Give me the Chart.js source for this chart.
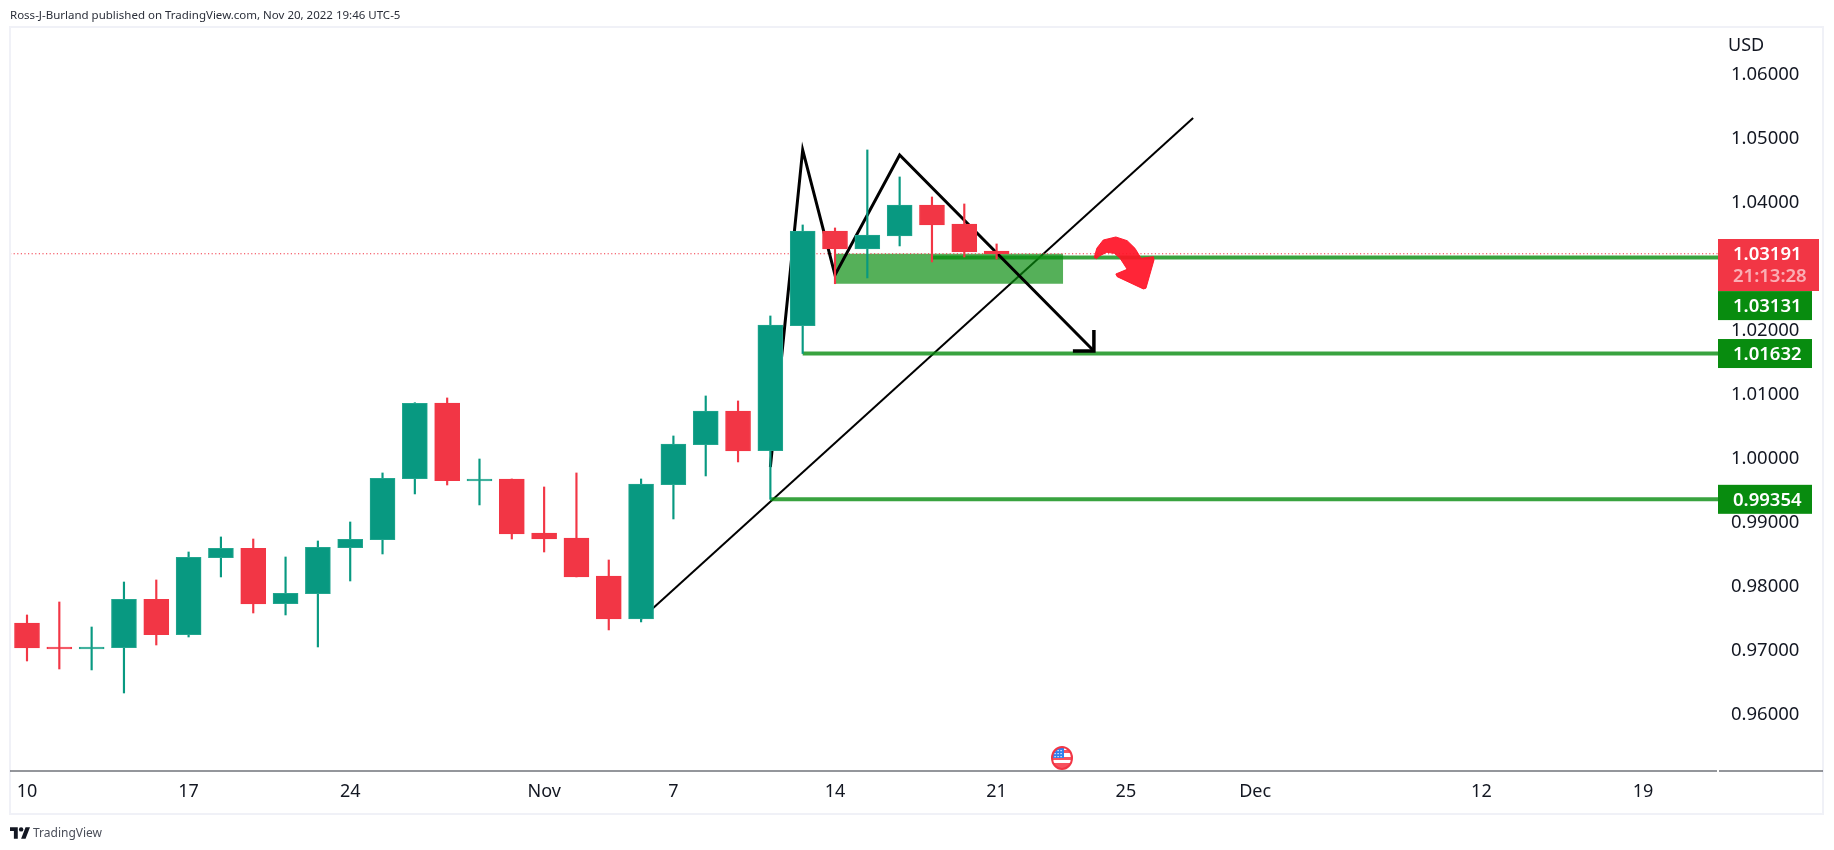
<!DOCTYPE html>
<html>
<head>
<meta charset="utf-8">
<title>EURUSD daily</title>
<script src="https://cdn.jsdelivr.net/npm/chart.js@4"></script>
<style>
  html, body { margin: 0; padding: 0; background: #fff; width: 1834px; height: 850px; overflow: hidden; }
  #wrap { position: relative; width: 1834px; height: 850px; }
  #chart { position: absolute; left: 0; top: 0; }
  .txt { position: absolute; font-family: "Noto Sans", sans-serif; white-space: nowrap; }
  #head { left: 10px; top: 5px; font-size: 11.5px; line-height: 20px; color: #2a2e39; }
  #brand { left: 33px; top: 823px; font-size: 12px; line-height: 20px; color: #4a4e59; }
  #logo { position: absolute; left: 10px; top: 827px; }
</style>
</head>
<body>
<div id="wrap">
  <canvas id="chart" width="1834" height="850"></canvas>
  <div class="txt" id="head">Ross-J-Burland published on TradingView.com, Nov 20, 2022 19:46 UTC-5</div>
  <svg id="logo" width="20" height="12" viewBox="0 0 36 21"><path fill="#131722" d="M14 0H0v7h7v14h7V0zM28 21h-8l8-21h8l-8 21z"/><circle fill="#131722" cx="20" cy="4" r="4"/></svg>
  <div class="txt" id="brand">TradingView</div>
</div>
<script>
// daily candles, Oct 10 to Nov 21, weekdays only
const opens = [0.97422,0.97047,0.97016,0.97036,0.97792,0.97240,0.98442,0.98589,0.97724,0.97879,0.98599,0.98723,0.99678,1.00859,0.99641,0.99672,0.98828,0.98750,0.98156,0.97484,0.99584,1.00208,1.00734,1.00114,1.02067,1.03547,1.03266,1.03469,1.03953,1.03656,1.03234];
const highs = [0.97547,0.97750,0.97359,0.98062,0.98094,0.98531,0.98766,0.98734,0.98453,0.98703,0.99000,0.99766,1.00864,1.00938,0.99984,0.99672,0.99547,0.99766,0.98406,0.99672,1.00344,1.00969,1.00891,1.02219,1.03641,1.03594,1.04813,1.04391,1.04078,1.03969,1.03344];
const lows = [0.96828,0.96703,0.96688,0.96328,0.97078,0.97203,0.98141,0.97578,0.97547,0.97047,0.98078,0.98500,0.99438,0.99578,0.99266,0.98734,0.98531,0.98141,0.97313,0.97438,0.99047,0.99719,0.99938,0.99354,1.01632,1.02723,1.02813,1.03313,1.03063,1.03141,1.03109];
const closes = [0.97031,0.97016,0.97047,0.97792,0.97240,0.98448,0.98589,0.97719,0.97885,0.98605,0.98730,0.99683,1.00852,0.99645,0.99672,0.98812,0.98734,0.98141,0.97484,0.99594,1.00219,1.00734,1.00109,1.02078,1.03547,1.03266,1.03484,1.03953,1.03641,1.03219,1.03191];

const timeTickPos = [0,5,10,16,20,25,30,34,38,45,50];
const timeTickLabels = ['10','17','24','Nov','7','14','21','25','Dec','12','19'];
const priceTicks = [0.96,0.97,0.98,0.99,1.00,1.01,1.02,1.03,1.04,1.05,1.06];

const lastPrice = 1.03191;
const xMin = -0.526, xMax = 52.32, yMin = 0.95109, yMax = 1.06734;

// drawings, x in bar index, y in price
const level1X = [28, xMax], level1Y = [1.03131, 1.03131];
const level2X = [24, xMax], level2Y = [1.01632, 1.01632];
const level3X = [23, xMax], level3Y = [0.99354, 0.99354];
const zoneX = [25, 32.06], zoneTop = 1.03191, zoneBottom = 1.02723;
const trendX = [19, 36.08], trendY = [0.97484, 1.05313];
const zigzagX = [23, 24, 25, 27, 33.01], zigzagY = [0.99859, 1.04813, 1.02859, 1.04734, 1.01672];
const headX = [32.36, 33.01, 33.01], headY = [1.01672, 1.01672, 1.02];
const curveX = [33.02,33.10,33.30,33.69,34.04,34.28,34.47,34.85,34.87,34.62,34.54,33.73,33.69,34.04,33.82,33.64,33.41,33.18,33.08];
const curveY = [1.03130,1.03277,1.03406,1.03453,1.03395,1.03277,1.03120,1.03145,1.03094,1.02652,1.02641,1.02833,1.02875,1.02948,1.03120,1.03198,1.03214,1.03156,1.03109];

const UP = '#089981', DOWN = '#f23645', UP_EDGE = '#22a68f';
const LEVEL = 'rgba(8,140,15,0.8)', TAG = '#088c0f';
const FONT = '"Noto Sans", sans-serif';

const pts = (xs, ys) => xs.map((x, i) => ({ x, y: ys[i] }));
const isUp = (ctx) => closes[ctx.dataIndex] >= opens[ctx.dataIndex];

function lineSet(xs, ys, color, width, order, extra) {
  return Object.assign({
    type: 'line', data: pts(xs, ys), borderColor: color, borderWidth: width,
    pointRadius: 0, tension: 0, fill: false, order, borderJoinStyle: 'miter', borderCapStyle: 'butt'
  }, extra || {});
}

const tradingViewLook = {
  id: 'tradingViewLook',
  afterDraw(chart) {
    const c = chart.ctx, y = chart.scales.y;
    c.save();
    // frame and time axis line
    c.strokeStyle = '#f0f1f7'; c.lineWidth = 2;
    c.strokeRect(10, 27, 1813, 787);
    c.strokeStyle = '#2a2e39'; c.lineWidth = 1.2;
    c.beginPath(); c.moveTo(10, 771); c.lineTo(1717, 771); c.moveTo(1719, 771); c.lineTo(1823, 771); c.stroke();

    c.textBaseline = 'middle'; c.textAlign = 'left';
    c.fillStyle = '#131722'; c.font = '18px ' + FONT;
    c.fillText('USD', 1728, 46);

    // last price tag
    c.fillStyle = DOWN; c.fillRect(1718, 239, 101, 52);
    c.font = '600 18.5px ' + FONT; c.fillStyle = '#fff';
    c.fillText('1.03191', 1733, 255);
    c.fillStyle = 'rgba(255,255,255,0.6)';
    c.fillText('21:13:28', 1733, 277);

    // level tags, the top one is pushed down under the last price tag
    [[level1Y[0], 48], [level2Y[0], 0], [level3Y[0], 0]].forEach(([p, shift]) => {
      const py = y.getPixelForValue(p) + shift;
      c.fillStyle = TAG; c.fillRect(1718, py - 14.5, 94, 29);
      c.fillStyle = '#fff';
      c.fillText(p.toFixed(5), 1733, py + 1);
    });

    // calendar event flag
    const fx = 1062, fy = 758;
    c.beginPath(); c.ellipse(fx, fy, 10, 11, 0, 0, Math.PI * 2);
    c.fillStyle = '#fff'; c.fill();
    c.save(); c.clip();
    c.fillStyle = '#f7525f'; c.fillRect(fx - 11, fy - 8, 22, 3); c.fillRect(fx - 11, fy - 1, 22, 3); c.fillRect(fx - 11, fy + 5, 22, 7);
    c.fillStyle = '#2f80ed'; c.fillRect(fx - 9, fy - 10, 11, 10);
    c.fillStyle = '#fff';
    for (let a = 0; a < 3; a++) for (let b = 0; b < 3; b++) c.fillRect(fx - 7.5 + a * 3, fy - 8 + b * 3, 1.2, 1.2);
    c.restore();
    c.beginPath(); c.ellipse(fx, fy, 10, 11, 0, 0, Math.PI * 2);
    c.strokeStyle = DOWN; c.lineWidth = 2; c.stroke();
    c.restore();
  }
};

new Chart(document.getElementById('chart').getContext('2d'), {
  type: 'bar',
  plugins: [tradingViewLook],
  data: {
    datasets: [
      // bodies and wicks stay on top of the drawings
      { data: opens.map((o, i) => ({ x: i, y: [o, closes[i]] })), barThickness: 25, borderWidth: 1, borderSkipped: false,
        backgroundColor: (c) => isUp(c) ? UP : DOWN, borderColor: (c) => isUp(c) ? UP_EDGE : DOWN, order: 1 },
      { data: lows.map((l, i) => ({ x: i, y: [l, highs[i]] })), barThickness: 1.5, borderWidth: 0,
        backgroundColor: (c) => isUp(c) ? UP : DOWN, order: 2 },
      lineSet(curveX, curveY, 'rgba(255,20,40,0.93)', 1, 3, { fill: 'shape', backgroundColor: 'rgba(255,20,40,0.93)', borderJoinStyle: 'round' }),
      lineSet(headX, headY, '#000', 3.5, 4),
      lineSet(zigzagX, zigzagY, '#000', 3, 5),
      lineSet([xMin, xMax], [lastPrice, lastPrice], DOWN, 1, 6, { borderDash: [1.2, 2.4] }),
      lineSet(level1X, level1Y, LEVEL, 4, 7),
      lineSet(level2X, level2Y, LEVEL, 4, 8),
      lineSet(level3X, level3Y, LEVEL, 4, 9),
      lineSet(zoneX, [zoneTop, zoneTop], 'transparent', 0, 10, { fill: { value: zoneBottom }, backgroundColor: 'rgba(8,140,15,0.69)' }),
      lineSet(trendX, trendY, '#000', 2, 11)
    ]
  },
  options: {
    responsive: false,
    animation: false,
    devicePixelRatio: 1,
    grouped: false,
    layout: { padding: { left: 10, top: 27, right: 10, bottom: 36 } },
    plugins: { legend: { display: false }, tooltip: { enabled: false } },
    scales: {
      x: {
        type: 'linear', min: xMin, max: xMax, offset: false,
        grid: { display: false, drawTicks: false }, border: { display: false },
        afterBuildTicks: (s) => { s.ticks = timeTickPos.map((value) => ({ value })); },
        afterFit: (s) => { s.height = 43; },
        ticks: {
          autoSkip: false, maxRotation: 0, padding: 10, color: '#131722', font: { family: FONT, size: 18 },
          callback: (v) => timeTickLabels[timeTickPos.indexOf(v)]
        }
      },
      y: {
        type: 'linear', position: 'right', min: yMin, max: yMax, beginAtZero: false,
        grid: { display: false, drawTicks: false }, border: { display: false },
        afterBuildTicks: (s) => { s.ticks = priceTicks.map((value) => ({ value })); },
        afterFit: (s) => { s.width = 106; },
        ticks: {
          autoSkip: false, padding: 13, crossAlign: 'near', labelOffset: 1, color: '#131722', font: { family: FONT, size: 18.5 },
          callback: (v) => v.toFixed(5)
        }
      }
    }
  }
});
</script>
</body>
</html>
